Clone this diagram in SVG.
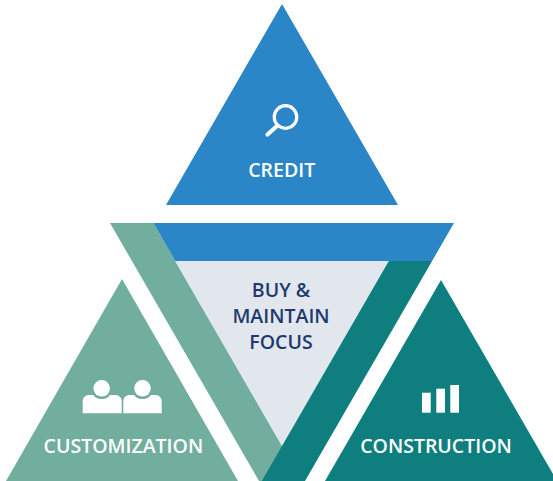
<svg xmlns="http://www.w3.org/2000/svg" width="553" height="481" viewBox="0 0 553 481">
  <style>
    .lbl { font-family: "Open Sans", "Noto Sans", "DejaVu Sans", sans-serif; font-weight: 600; font-size: 19.5px; fill: #ffffff; text-anchor: middle; }
    .focus { font-family: "Open Sans", "Noto Sans", "DejaVu Sans", sans-serif; font-weight: 600; font-size: 19.5px; fill: #1f3a6e; text-anchor: middle; }
    .blue { fill: #2a86c6; }
    .sage { fill: #72ae9d; }
    .teal { fill: #0e7f7e; }
    .grey { fill: #e2e6ed; }
  </style>
  <rect width="553" height="481" fill="#ffffff"/>

  <g id="center-focus">
    <polygon class="sage" points="110,223 153.3,223 302.3,481 259,481"/>
    <polygon class="grey" points="175.2,261 388.8,261 282,446"/>
    <polygon class="blue" points="153.3,223 454,223 432.1,261 175.2,261"/>
    <polygon class="teal" points="388.8,261 432.1,261 305,481 261.8,481"/>
    <text class="focus" x="281" y="297">BUY &amp;</text>
    <text class="focus" x="281" y="323">MAINTAIN</text>
    <text class="focus" x="281" y="349">FOCUS</text>
  </g>

  <g id="credit">
    <polygon class="blue" points="282,4 398,205 166,205"/>
    <circle cx="285.5" cy="117" r="11.3" fill="none" stroke="#ffffff" stroke-width="3.2"/>
    <line x1="277" y1="126" x2="267.5" y2="134.5" stroke="#ffffff" stroke-width="4.2" stroke-linecap="round"/>
    <text class="lbl" x="281.7" y="176.7">CREDIT</text>
  </g>

  <g id="customization">
    <polygon class="sage" points="122,279 238,481 6,481"/>
    <path d="M82.7,413.3 V401 a6,6 0 0 1 6,-6 H115.7 a6,6 0 0 1 6,6 V413.3 Z" fill="#ffffff"/>
    <path d="M123.3,413.3 V401 a6,6 0 0 1 6,-6 H155.7 a6,6 0 0 1 6,6 V413.3 Z" fill="#ffffff"/>
    <circle cx="101.7" cy="388.3" r="10.8" class="sage"/>
    <circle cx="142.5" cy="388.3" r="10.8" class="sage"/>
    <circle cx="101.7" cy="388.3" r="8.3" fill="#ffffff"/>
    <circle cx="142.5" cy="388.3" r="8.3" fill="#ffffff"/>
    <text class="lbl" x="123.4" y="452.7">CUSTOMIZATION</text>
  </g>

  <g id="construction">
    <polygon class="teal" points="441,280 557,481 325,481"/>
    <rect x="422" y="392.7" width="8.7" height="20" fill="#ffffff"/>
    <rect x="436.3" y="388.7" width="8.7" height="24" fill="#ffffff"/>
    <rect x="450.3" y="385" width="8.7" height="27.7" fill="#ffffff"/>
    <text class="lbl" x="436" y="452.7">CONSTRUCTION</text>
  </g>

  <g id="connectors"></g>
</svg>
